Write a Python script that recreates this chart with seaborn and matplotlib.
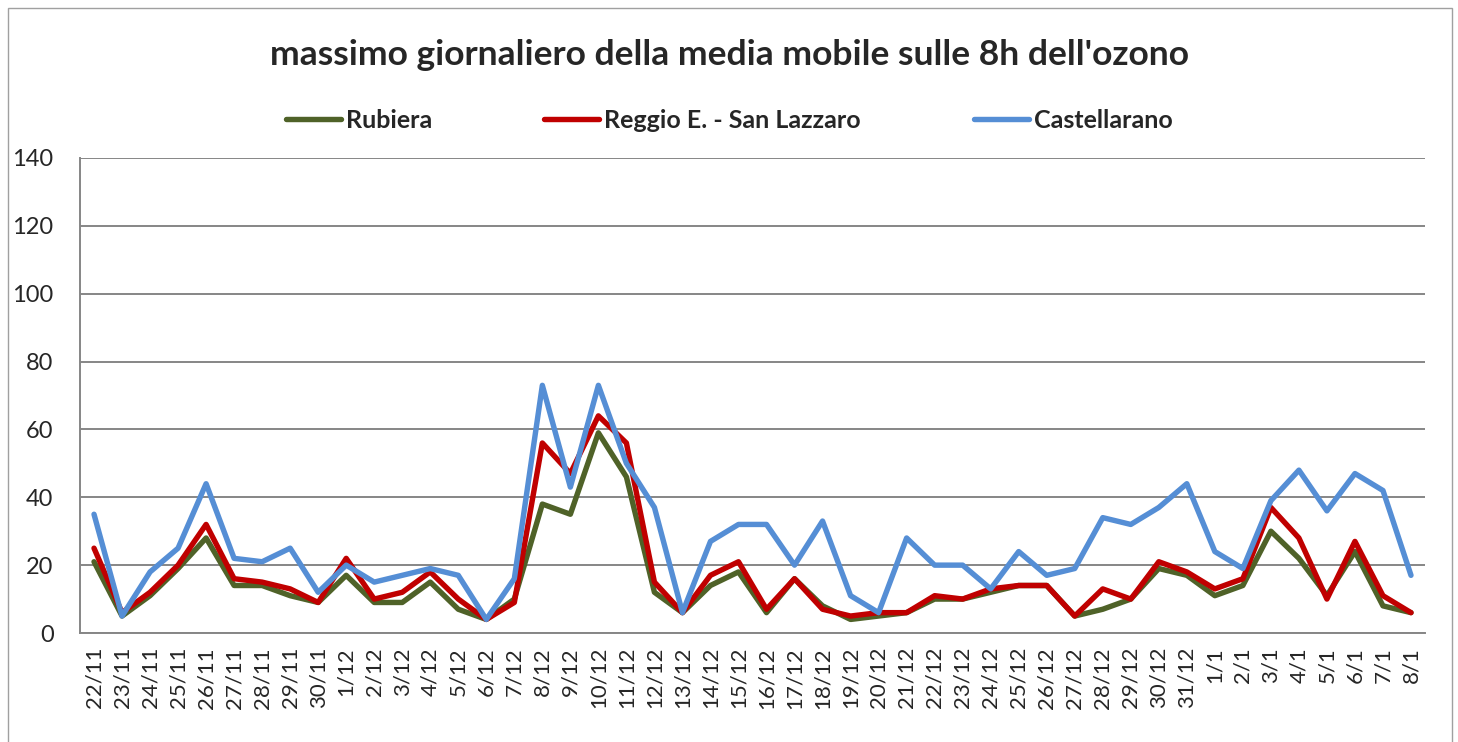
import numpy as np
import pandas as pd
import matplotlib
matplotlib.use("Agg")
import matplotlib.pyplot as plt
import seaborn as sns
from matplotlib.patches import Rectangle
from matplotlib.ticker import FixedLocator

# dates on the x axis
days = (["%d/11" % d for d in range(22, 31)]
        + ["%d/12" % d for d in range(1, 32)]
        + ["%d/1" % d for d in range(1, 9)])

rubiera = [21, 5, 11, 19, 28, 14, 14, 11, 9,
           17, 9, 9, 15, 7, 4, 10, 38, 35, 59, 46, 12, 6, 14, 18, 6, 16, 8, 4, 5, 6,
           10, 10, 12, 14, 14, 5, 7, 10, 19, 17,
           11, 14, 30, 22, 11, 24, 8, 6]
reggio = [25, 6, 12, 20, 32, 16, 15, 13, 9,
          22, 10, 12, 18, 10, 4, 9, 56, 47, 64, 56, 15, 6, 17, 21, 7, 16, 7, 5, 6, 6,
          11, 10, 13, 14, 14, 5, 13, 10, 21, 18,
          13, 16, 37, 28, 10, 27, 11, 6]
castellarano = [35, 5, 18, 25, 44, 22, 21, 25, 12,
                20, 15, 17, 19, 17, 4, 16, 73, 43, 73, 50, 37, 6, 27, 32, 32, 20, 33, 11, 6, 28,
                20, 20, 13, 24, 17, 19, 34, 32, 37, 44,
                24, 19, 39, 48, 36, 47, 42, 17]

series_names = ["Rubiera", "Reggio E. - San Lazzaro", "Castellarano"]
colors = ["#4F6228", "#C00000", "#558ED5"]

rows = []
for name, vals in zip(series_names, [rubiera, reggio, castellarano]):
    for i, v in enumerate(vals):
        rows.append({"pos": i, "giorno": days[i], "stazione": name, "valore": v})
df = pd.DataFrame(rows)

sns.set_style("white")
plt.rcParams["font.family"] = ["Lato", "DejaVu Sans"]

fig = plt.figure(figsize=(14.58, 7.42), dpi=100)
ax = fig.add_axes([80 / 1458, 1 - 633 / 742, (1425 - 80) / 1458, (633 - 158) / 742])

# outer chart frame
fig.patches.append(Rectangle((8 / 1458, -0.01), 1444 / 1458, 1 - 8 / 742 + 0.01,
                             transform=fig.transFigure, fill=False,
                             edgecolor="#A0A0A0", linewidth=1.0))

sns.lineplot(data=df, x="pos", y="valore", hue="stazione", hue_order=series_names,
             palette=colors, linewidth=3.9, ax=ax, legend=False, sort=False)

ax.set_xlim(-0.5, len(days) - 0.5)
ax.set_ylim(0, 140)
ax.set_yticks(np.arange(0, 141, 20))
ax.yaxis.grid(True, color="#868686", linewidth=1.4)
ax.set_axisbelow(True)
for s in ["top", "right"]:
    ax.spines[s].set_visible(False)
for s in ["left", "bottom"]:
    ax.spines[s].set_color("#868686")
    ax.spines[s].set_linewidth(1.4)

ax.set_xticks(range(len(days)))
ax.set_xticklabels(days, rotation=90, fontsize=16)
ax.xaxis.set_minor_locator(FixedLocator(np.arange(-0.5, len(days), 1)))
ax.tick_params(axis="x", which="major", length=0, pad=10)
ax.tick_params(axis="x", which="minor", length=6, width=1.2, color="#868686", direction="out")
ax.tick_params(axis="y", length=8, width=1.4, color="#868686", labelsize=17, pad=11)
ax.set_xlabel("")
ax.set_ylabel("")

fig.text(0.5, 1 - 55 / 742, "massimo giornaliero della media mobile sulle 8h dell'ozono",
         ha="center", va="center", fontsize=25.5, fontweight="bold")

handles = [plt.Line2D([], [], color=c, linewidth=3.9) for c in colors]
fig.legend(handles, series_names, loc="center", bbox_to_anchor=(0.5, 1 - 120 / 742),
           ncol=3, frameon=False, handlelength=2.2, handletextpad=0.2,
           columnspacing=4.5, prop={"weight": "bold", "size": 18})

fig.savefig("out.png", dpi=100)
